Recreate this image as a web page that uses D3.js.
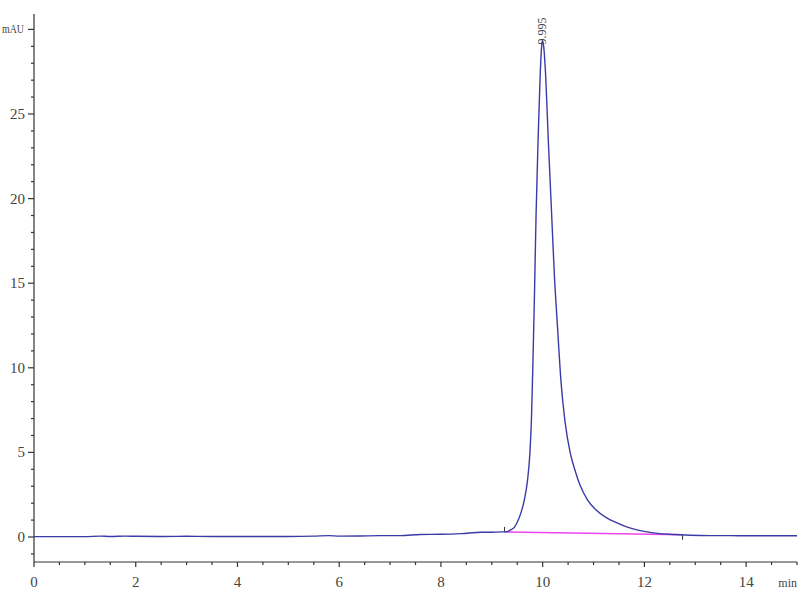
<!DOCTYPE html>
<html>
<head>
<meta charset="utf-8">
<script src="https://cdn.jsdelivr.net/npm/d3@7"></script>
<style>
  html, body { margin: 0; padding: 0; background: #fff; }
  svg { display: block; }
  text { font-family: "Liberation Serif", "DejaVu Serif", serif; fill: #444; }
</style>
</head>
<body>
<svg id="chart" width="800" height="600"></svg>
<script>
// ---- data ----
const timeMin = [0, 0.5, 1.0, 1.3, 1.5, 1.8, 2.0, 2.5, 3.0, 3.5, 4.0, 4.5, 5.0, 5.5, 5.8, 6.0, 6.4, 6.8, 7.2, 7.6, 8.0, 8.4, 8.8, 9.0, 9.2, 9.3, 9.39, 9.45, 9.52, 9.58, 9.64, 9.70, 9.75, 9.78, 9.81, 9.84, 9.87, 9.91, 9.95, 9.98, 9.995, 10.02, 10.06, 10.11, 10.17, 10.23, 10.29, 10.36, 10.44, 10.54, 10.64, 10.73, 10.88, 11.05, 11.25, 11.45, 11.65, 11.85, 12.05, 12.3, 12.6, 12.9, 13.3, 13.7, 14.0, 14.5, 15.0];
const signalMAU = [0.02, 0.02, 0.02, 0.05, 0.03, 0.05, 0.04, 0.03, 0.04, 0.03, 0.03, 0.03, 0.03, 0.05, 0.08, 0.05, 0.06, 0.08, 0.08, 0.15, 0.16, 0.2, 0.28, 0.28, 0.3, 0.32, 0.45, 0.6, 1.0, 1.5, 2.2, 3.3, 5.0, 7.0, 10.5, 14.5, 19.0, 23.5, 27.2, 29.0, 29.35, 29.0, 27.2, 23.5, 19.5, 15.5, 12.5, 9.2, 6.8, 5.0, 3.9, 3.1, 2.2, 1.6, 1.15, 0.85, 0.6, 0.42, 0.3, 0.2, 0.15, 0.1, 0.08, 0.08, 0.07, 0.07, 0.07];
const peakLabel = ["9.995"];
const peakTime = [9.995];
const peakHeight = [29.35];
const baselineTime = [9.25, 12.75];
const baselineValue = [0.3, 0.13];
const xTickValues = [0, 2, 4, 6, 8, 10, 12, 14];
const yTickValues = [0, 5, 10, 15, 20, 25];
const yUnitLabel = "mAU";
const xUnitLabel = "min";

// ---- layout ----
const svg = d3.select("#chart");
const plotLeft = 34, plotRight = 797, plotTop = 14, plotBottom = 562;
const x = d3.scaleLinear().domain([0, 15]).range([plotLeft, 797]);
const y = d3.scaleLinear().domain([0, 25]).range([537, 114]);
const yMin = y.invert(plotBottom), yMax = y.invert(plotTop);

// ---- y axis ----
const gy = svg.append("g").attr("transform", `translate(${plotLeft},0)`);
const yMinor = d3.range(Math.ceil(yMin), Math.floor(yMax) + 1, 1);
gy.selectAll("line.minor").data(yMinor).join("line")
  .attr("x1", d => (d % 5 === 0 ? -6 : -3)).attr("x2", 0)
  .attr("y1", d => y(d)).attr("y2", d => y(d))
  .attr("stroke", "#333").attr("stroke-width", 1.2);
gy.append("line").attr("x1", 0).attr("x2", 0).attr("y1", plotTop).attr("y2", plotBottom)
  .attr("stroke", "#333").attr("stroke-width", 1.2);
gy.selectAll("text.tl").data(yTickValues).join("text")
  .attr("class", "tl")
  .attr("x", -9).attr("y", d => y(d) + 5)
  .attr("text-anchor", "end").attr("font-size", 15)
  .text(d => d);
gy.append("text").attr("x", -32).attr("y", y(30) + 4)
  .attr("text-anchor", "start").attr("font-size", 13)
  .attr("textLength", 22).attr("lengthAdjust", "spacingAndGlyphs")
  .text(yUnitLabel);

// ---- x axis ----
const gx = svg.append("g").attr("transform", `translate(0,${plotBottom})`);
gx.append("line").attr("x1", plotLeft).attr("x2", plotRight).attr("y1", 0).attr("y2", 0)
  .attr("stroke", "#333").attr("stroke-width", 1.2);
const xMinor = d3.range(0, 15.01, 0.5);
gx.selectAll("line.t").data(xMinor).join("line")
  .attr("x1", d => x(d)).attr("x2", d => x(d))
  .attr("y1", 0).attr("y2", d => (Math.abs(d % 2) < 1e-9 ? 5 : 3))
  .attr("stroke", "#333").attr("stroke-width", 1.2);
gx.selectAll("text.tl").data(xTickValues).join("text")
  .attr("class", "tl")
  .attr("x", d => x(d)).attr("y", 25)
  .attr("text-anchor", "middle").attr("font-size", 15)
  .text(d => d);
gx.append("text").attr("x", 797).attr("y", 25)
  .attr("text-anchor", "end").attr("font-size", 12)
  .text(xUnitLabel);

// ---- baseline (integration) ----
svg.append("line")
  .attr("x1", x(baselineTime[0])).attr("y1", y(baselineValue[0]))
  .attr("x2", x(baselineTime[1])).attr("y2", y(baselineValue[1]))
  .attr("stroke", "#ee44ee").attr("stroke-width", 1.5);
svg.append("line")
  .attr("x1", x(baselineTime[0])).attr("x2", x(baselineTime[0]))
  .attr("y1", y(baselineValue[0])).attr("y2", y(baselineValue[0]) - 5)
  .attr("stroke", "#333").attr("stroke-width", 1);
svg.append("line")
  .attr("x1", x(baselineTime[1])).attr("x2", x(baselineTime[1]))
  .attr("y1", y(baselineValue[1])).attr("y2", y(baselineValue[1]) + 5)
  .attr("stroke", "#333").attr("stroke-width", 1);

// ---- signal ----
const pts = timeMin.map((t, i) => [t, signalMAU[i]]);
const line = d3.line().x(d => x(d[0])).y(d => y(d[1])).curve(d3.curveMonotoneX);
svg.append("path").datum(pts)
  .attr("d", line)
  .attr("fill", "none")
  .attr("stroke", "#3b3ba6")
  .attr("stroke-width", 1.4);

// ---- peak label ----
peakLabel.forEach((lab, i) => {
  const px = x(peakTime[i]) + 4, py = y(peakHeight[i]) + 4;
  svg.append("text")
    .attr("transform", `translate(${px},${py}) rotate(-90)`)
    .attr("font-size", 12)
    .attr("text-anchor", "start")
    .text(lab);
});
</script>
</body>
</html>
